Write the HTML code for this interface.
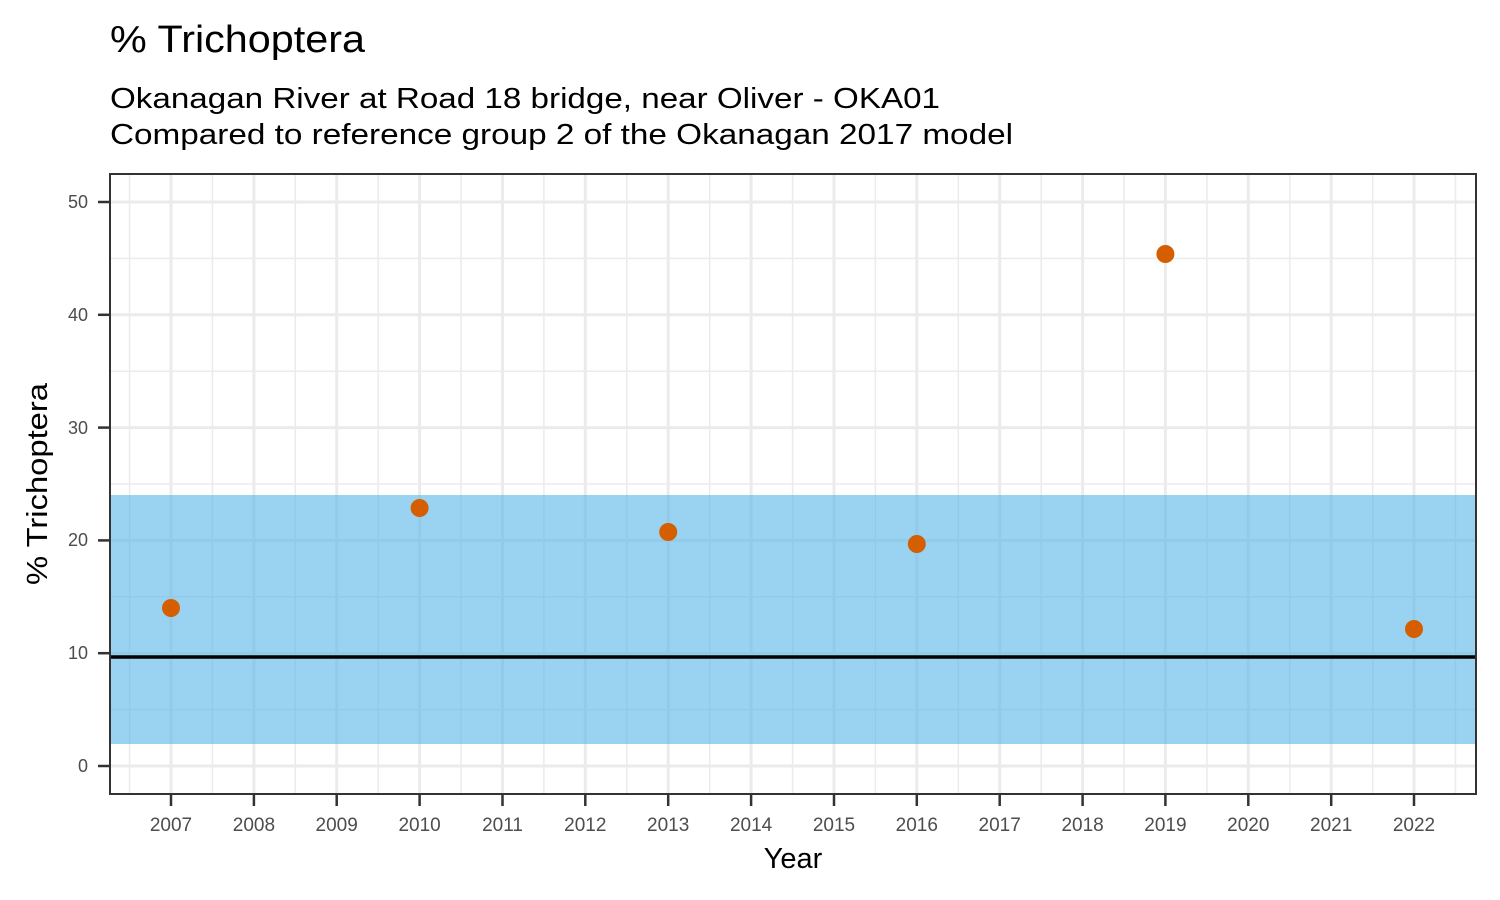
<!DOCTYPE html>
<html><head><style>body{margin:0;background:#fff}svg{display:block}</style></head>
<body>
<svg width="1500" height="900" xmlns="http://www.w3.org/2000/svg" font-family="Liberation Sans, sans-serif">
<rect width="1500" height="900" fill="#fff"/>
<text x="110" y="52" font-size="38" textLength="255" lengthAdjust="spacingAndGlyphs">% Trichoptera</text>
<text x="110" y="108" font-size="29" textLength="830" lengthAdjust="spacingAndGlyphs">Okanagan River at Road 18 bridge, near Oliver - OKA01</text>
<text x="110" y="144" font-size="29" textLength="903" lengthAdjust="spacingAndGlyphs">Compared to reference group 2 of the Okanagan 2017 model</text>
<g stroke="#ebebeb" stroke-width="1.5">
<line x1="110" x2="1476" y1="709.6" y2="709.6"/><line x1="110" x2="1476" y1="596.8" y2="596.8"/>
<line x1="110" x2="1476" y1="484" y2="484"/><line x1="110" x2="1476" y1="371.2" y2="371.2"/>
<line x1="110" x2="1476" y1="258.4" y2="258.4"/>
<line y1="174" y2="794" x1="129.6" x2="129.6"/><line y1="174" y2="794" x1="212.4" x2="212.4"/>
<line y1="174" y2="794" x1="295.3" x2="295.3"/><line y1="174" y2="794" x1="378.2" x2="378.2"/>
<line y1="174" y2="794" x1="461.0" x2="461.0"/><line y1="174" y2="794" x1="543.9" x2="543.9"/>
<line y1="174" y2="794" x1="626.8" x2="626.8"/><line y1="174" y2="794" x1="709.7" x2="709.7"/>
<line y1="174" y2="794" x1="792.6" x2="792.6"/><line y1="174" y2="794" x1="875.4" x2="875.4"/>
<line y1="174" y2="794" x1="958.3" x2="958.3"/><line y1="174" y2="794" x1="1041.2" x2="1041.2"/>
<line y1="174" y2="794" x1="1124.1" x2="1124.1"/><line y1="174" y2="794" x1="1206.9" x2="1206.9"/>
<line y1="174" y2="794" x1="1289.8" x2="1289.8"/><line y1="174" y2="794" x1="1372.7" x2="1372.7"/>
<line y1="174" y2="794" x1="1455.5" x2="1455.5"/>
</g>
<g stroke="#ebebeb" stroke-width="3">
<line x1="110" x2="1476" y1="766" y2="766"/><line x1="110" x2="1476" y1="653.2" y2="653.2"/>
<line x1="110" x2="1476" y1="540.4" y2="540.4"/><line x1="110" x2="1476" y1="427.6" y2="427.6"/>
<line x1="110" x2="1476" y1="314.8" y2="314.8"/><line x1="110" x2="1476" y1="202" y2="202"/>
<line y1="174" y2="794" x1="171" x2="171"/><line y1="174" y2="794" x1="253.9" x2="253.9"/>
<line y1="174" y2="794" x1="336.7" x2="336.7"/><line y1="174" y2="794" x1="419.6" x2="419.6"/>
<line y1="174" y2="794" x1="502.5" x2="502.5"/><line y1="174" y2="794" x1="585.3" x2="585.3"/>
<line y1="174" y2="794" x1="668.2" x2="668.2"/><line y1="174" y2="794" x1="751.1" x2="751.1"/>
<line y1="174" y2="794" x1="834" x2="834"/><line y1="174" y2="794" x1="916.8" x2="916.8"/>
<line y1="174" y2="794" x1="999.7" x2="999.7"/><line y1="174" y2="794" x1="1082.6" x2="1082.6"/>
<line y1="174" y2="794" x1="1165.4" x2="1165.4"/><line y1="174" y2="794" x1="1248.3" x2="1248.3"/>
<line y1="174" y2="794" x1="1331.2" x2="1331.2"/><line y1="174" y2="794" x1="1414" x2="1414"/>
</g>
<rect x="110" y="495" width="1366" height="249" fill="#56B4E9" opacity="0.6"/>
<line x1="110" x2="1476" y1="657" y2="657" stroke="#000" stroke-width="3.5"/>
<g fill="#D55E00">
<circle cx="171" cy="608" r="9"/><circle cx="419.6" cy="508" r="9"/>
<circle cx="668.2" cy="532" r="9"/><circle cx="916.8" cy="544" r="9"/>
<circle cx="1165.4" cy="254" r="9"/><circle cx="1414" cy="629" r="9"/>
</g>
<rect x="110" y="174" width="1366" height="620" fill="none" stroke="#333" stroke-width="2"/>
<g stroke="#333" stroke-width="2.5">
<line x1="98" x2="110" y1="766" y2="766"/><line x1="98" x2="110" y1="653.2" y2="653.2"/>
<line x1="98" x2="110" y1="540.4" y2="540.4"/><line x1="98" x2="110" y1="427.6" y2="427.6"/>
<line x1="98" x2="110" y1="314.8" y2="314.8"/><line x1="98" x2="110" y1="202" y2="202"/>
</g>
<g font-size="18" fill="#4d4d4d" text-anchor="end">
<text x="88" y="772">0</text><text x="88" y="659">10</text><text x="88" y="546">20</text>
<text x="88" y="434">30</text><text x="88" y="321">40</text><text x="88" y="208">50</text>
</g>
<g stroke="#333" stroke-width="2.5">
<line y1="794" y2="806" x1="171" x2="171"/><line y1="794" y2="806" x1="253.9" x2="253.9"/>
<line y1="794" y2="806" x1="336.7" x2="336.7"/><line y1="794" y2="806" x1="419.6" x2="419.6"/>
<line y1="794" y2="806" x1="502.5" x2="502.5"/><line y1="794" y2="806" x1="585.3" x2="585.3"/>
<line y1="794" y2="806" x1="668.2" x2="668.2"/><line y1="794" y2="806" x1="751.1" x2="751.1"/>
<line y1="794" y2="806" x1="834" x2="834"/><line y1="794" y2="806" x1="916.8" x2="916.8"/>
<line y1="794" y2="806" x1="999.7" x2="999.7"/><line y1="794" y2="806" x1="1082.6" x2="1082.6"/>
<line y1="794" y2="806" x1="1165.4" x2="1165.4"/><line y1="794" y2="806" x1="1248.3" x2="1248.3"/>
<line y1="794" y2="806" x1="1331.2" x2="1331.2"/><line y1="794" y2="806" x1="1414" x2="1414"/>
</g>
<g font-size="19" fill="#4d4d4d" text-anchor="middle">
<text x="171" y="831">2007</text><text x="253.9" y="831">2008</text><text x="336.7" y="831">2009</text>
<text x="419.6" y="831">2010</text><text x="502.5" y="831">2011</text><text x="585.3" y="831">2012</text>
<text x="668.2" y="831">2013</text><text x="751.1" y="831">2014</text><text x="834" y="831">2015</text>
<text x="916.8" y="831">2016</text><text x="999.7" y="831">2017</text><text x="1082.6" y="831">2018</text>
<text x="1165.4" y="831">2019</text><text x="1248.3" y="831">2020</text><text x="1331.2" y="831">2021</text>
<text x="1414" y="831">2022</text>
</g>
<text x="793" y="868" font-size="29" text-anchor="middle">Year</text>
<text transform="translate(47,484) rotate(-90)" font-size="29" text-anchor="middle" textLength="202" lengthAdjust="spacingAndGlyphs">% Trichoptera</text>
</svg>
</body></html>
